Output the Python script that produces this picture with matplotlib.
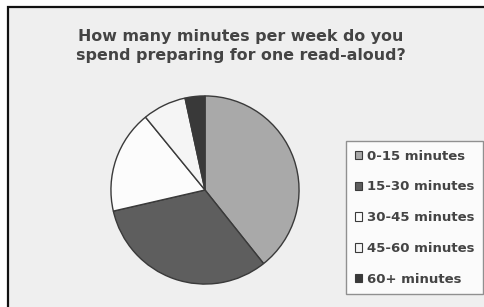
import matplotlib
matplotlib.use("Agg")
import matplotlib.pyplot as plt
from matplotlib.patches import Rectangle, Patch

# data (share of respondents, %)
labels = ["0-15 minutes", "15-30 minutes", "30-45 minutes", "45-60 minutes", "60+ minutes"]
shares = [39.3, 32.1, 17.7, 7.5, 3.4]
colors = ["#a9a9a9", "#5e5e5e", "#fcfcfc", "#f5f5f5", "#393939"]
title = "How many minutes per week do you\nspend preparing for one read-aloud?"

W, H = 485, 307
fig = plt.figure(figsize=(W / 100, H / 100), dpi=100, facecolor="white")

# panel with a black frame on top/left, running off the image on the right/bottom
fig.patches.append(Rectangle((8 / W, -0.05), 1.1, 1 - 7 / H + 0.05,
                             transform=fig.transFigure, facecolor="#efefef",
                             edgecolor="#111111", linewidth=1.6, zorder=-1))

fig.text(241 / W, 1 - 46 / H, title, ha="center", va="center",
         fontsize=11.4, fontweight="bold", color="#444444", linespacing=1.3)

ax = fig.add_axes([110 / W, 22 / H, 190 / W, 190 / H])
ax.pie(shares, colors=colors, startangle=90, counterclock=False,
       wedgeprops=dict(edgecolor="#3a3a3a", linewidth=1.0))
ax.set_xlim(-1.01, 1.01)
ax.set_ylim(-1.01, 1.01)
ax.set_aspect("equal")
ax.axis("off")

handles = [Patch(facecolor=c, edgecolor="#3a3a3a", linewidth=0.8) for c in colors]
leg = fig.legend(handles, labels, loc="upper left",
                 bbox_to_anchor=(346 / W, 1 - 141 / H),
                 frameon=True, fancybox=False, fontsize=9.5,
                 handlelength=0.6, handleheight=0.6, handletextpad=0.35,
                 labelspacing=1.35, borderpad=0.65, borderaxespad=0)
leg.get_frame().set_edgecolor("#777777")
leg.get_frame().set_facecolor("white")
leg.get_frame().set_linewidth(1.0)
for t in leg.get_texts():
    t.set_color("#444444")
    t.set_fontweight("bold")

fig.savefig("out.png", dpi=100, facecolor="white")
